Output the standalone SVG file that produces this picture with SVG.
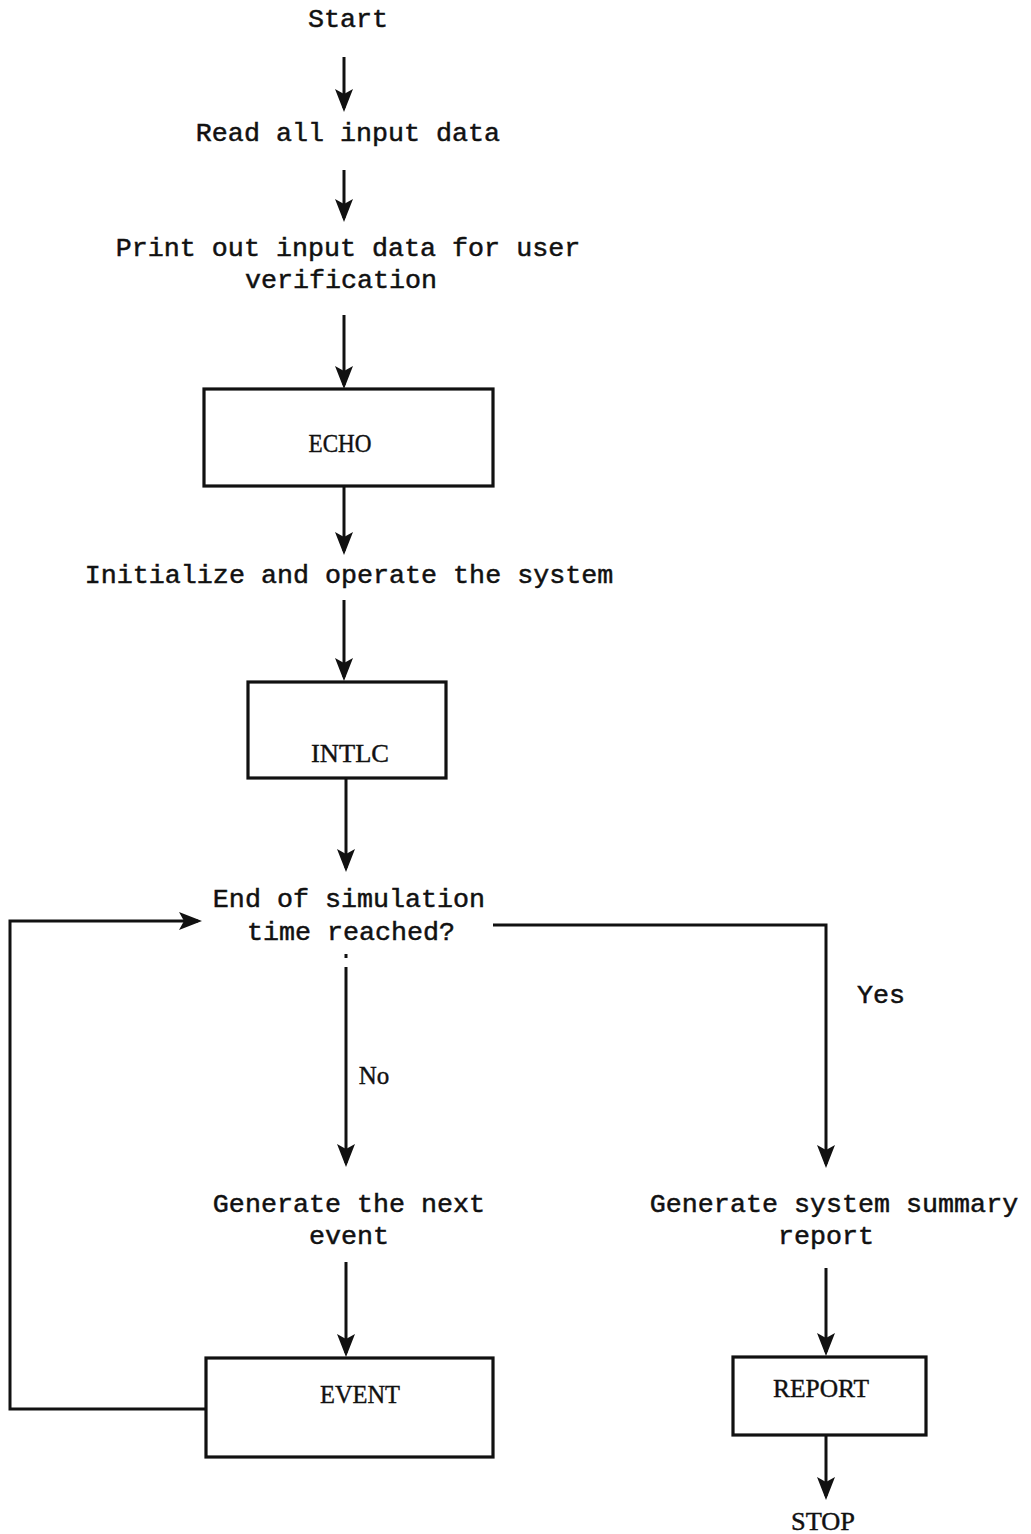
<svg xmlns="http://www.w3.org/2000/svg" width="1031" height="1534" viewBox="0 0 1031 1534">
  <style>
    .step { font-family: "Liberation Mono", "Courier New", monospace; font-size: 26.7px; fill: #111; stroke: #111; stroke-width: 0.5; text-anchor: middle; }
    .mod { font-family: "Liberation Serif", "Times New Roman", serif; font-size: 25px; fill: #111; stroke: #111; stroke-width: 0.4; text-anchor: middle; }
    .box { fill: #fff; stroke: #111; stroke-width: 3.2; }
    .wire { fill: none; stroke: #111; stroke-width: 3; stroke-linejoin: miter; }
  </style>
  <defs>
    <!-- barbed, filled arrowhead; tip sits 4px past the line end -->
    <marker id="head" markerUnits="userSpaceOnUse" viewBox="-22 -11 28 22" refX="0" refY="0" markerWidth="28" markerHeight="22" orient="auto">
      <path d="M4,0 L-19,-9 L-14,0 L-19,9 Z" fill="#111"/>
    </marker>
  </defs>

  <rect width="1031" height="1534" fill="#fff"/>

  <!-- connectors -->
  <g id="connectors" class="wire">
    <path d="M344,57 V108" marker-end="url(#head)"/>
    <path d="M344,170 V218" marker-end="url(#head)"/>
    <path d="M344,315 V385" marker-end="url(#head)"/>
    <path d="M344,486 V551" marker-end="url(#head)"/>
    <path d="M344,600 V677" marker-end="url(#head)"/>
    <path d="M346,778 V868" marker-end="url(#head)"/>
    <path d="M206,1409 H10 V921 H198" marker-end="url(#head)"/>
    <path d="M493,925 H826 V1164" marker-end="url(#head)"/>
    <path d="M346,954 V958"/>
    <path d="M346,967 V1163" marker-end="url(#head)"/>
    <path d="M346,1262 V1353" marker-end="url(#head)"/>
    <path d="M826,1268 V1352" marker-end="url(#head)"/>
    <path d="M826,1436 V1496" marker-end="url(#head)"/>
  </g>

  <!-- start -->
  <g id="start">
    <text class="step" x="348" y="27">Start</text>
  </g>

  <g id="read-input">
    <text class="step" x="348" y="141">Read all input data</text>
  </g>

  <g id="print-input">
    <text class="step" x="348" y="256">Print out input data for user</text>
    <text class="step" x="341" y="288">verification</text>
  </g>

  <g id="echo">
    <rect class="box" x="204" y="389" width="289" height="97"/>
    <text class="mod" x="340" y="452" textLength="63" lengthAdjust="spacingAndGlyphs">ECHO</text>
  </g>

  <g id="initialize">
    <text class="step" x="349" y="583">Initialize and operate the system</text>
  </g>

  <g id="intlc">
    <rect class="box" x="248" y="682" width="198" height="96"/>
    <text class="mod" x="350" y="762" textLength="78" lengthAdjust="spacingAndGlyphs">INTLC</text>
  </g>

  <g id="end-check">
    <text class="step" x="349" y="907">End of simulation</text>
    <text class="step" x="351" y="940">time reached?</text>
  </g>

  <g id="label-yes">
    <text class="step" x="881" y="1003">Yes</text>
  </g>

  <g id="label-no">
    <text class="mod" x="374" y="1084">No</text>
  </g>

  <g id="next-event">
    <text class="step" x="349" y="1212">Generate the next</text>
    <text class="step" x="349" y="1244">event</text>
  </g>

  <g id="event">
    <rect class="box" x="206" y="1358" width="287" height="99"/>
    <text class="mod" x="360" y="1403" textLength="80" lengthAdjust="spacingAndGlyphs">EVENT</text>
  </g>

  <g id="summary">
    <text class="step" x="834" y="1212">Generate system summary</text>
    <text class="step" x="826" y="1244">report</text>
  </g>

  <g id="report">
    <rect class="box" x="733" y="1357" width="193" height="78"/>
    <text class="mod" x="821" y="1397" textLength="96" lengthAdjust="spacingAndGlyphs">REPORT</text>
  </g>

  <g id="stop">
    <text class="mod" x="823" y="1530" textLength="64" lengthAdjust="spacingAndGlyphs">STOP</text>
  </g>
</svg>
